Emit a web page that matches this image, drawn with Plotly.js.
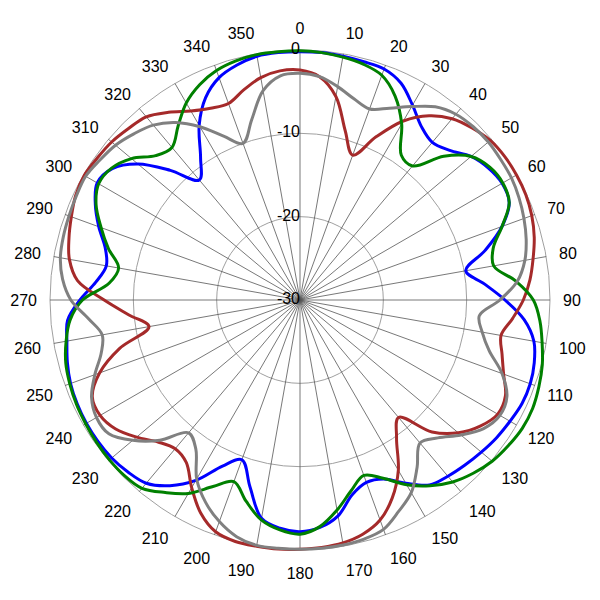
<!DOCTYPE html>
<html>
<head>
<meta charset="utf-8">
<script src="https://cdn.plot.ly/plotly-3.0.1.min.js"></script>
<style>html,body{margin:0;padding:0;background:#fff;}#chart{width:600px;height:600px;}</style>
</head>
<body>
<div id="chart"></div>
<script>
// Angles (degrees), 5 degree steps
const angles = [0,5,10,15,20,25,30,35,40,45,50,55,60,65,70,75,80,85,90,95,100,105,110,115,120,125,130,135,140,145,150,155,160,165,170,175,180,185,190,195,200,205,210,215,220,225,230,235,240,245,250,255,260,265,270,275,280,285,290,295,300,305,310,315,320,325,330,335,340,345,350,355];

const blueGain = [-0.2,-0.2,-0.3,-0.4,-0.5,-1.3,-3.0,-4.6,-5.3,-4.6,-3.2,-2.4,-2.0,-2.3,-4.2,-7.0,-9.8,-7.8,-5.4,-3.0,-1.5,-0.9,-0.6,-0.6,-0.9,-1.2,-1.6,-2.0,-2.4,-2.9,-4.6,-6.3,-6.7,-5.8,-3.7,-2.6,-2.2,-2.5,-3.4,-6.8,-9.6,-8.0,-5.0,-2.8,-1.3,-0.8,-0.5,-0.4,-0.4,-0.5,-0.7,-1.1,-1.6,-2.0,-3.6,-5.4,-6.4,-5.8,-4.3,-2.9,-1.9,-2.5,-4.6,-8.0,-11.2,-9.2,-5.8,-3.2,-1.6,-0.8,-0.3,-0.2];

const greenGain = [-0.1,-0.2,-0.4,-0.7,-1.3,-3.0,-5.6,-8.8,-9.0,-5.6,-3.2,-2.2,-1.9,-2.3,-4.2,-6.0,-6.4,-4.0,-2.0,-1.1,-0.5,0.1,0.5,0.8,0.8,0.5,0.1,-0.6,-1.5,-2.8,-4.4,-6.4,-7.6,-6.3,-4.4,-2.7,-1.9,-2.3,-3.2,-5.0,-6.8,-5.3,-3.2,-1.8,-0.5,-0.2,-0.15,-0.2,-0.3,-0.4,-0.6,-0.9,-1.5,-2.3,-3.9,-7.0,-7.9,-6.2,-4.6,-3.0,-2.1,-2.4,-3.6,-5.5,-6.1,-4.5,-2.7,-1.5,-0.7,-0.3,-0.1,-0.1];

const redGain = [-2.4,-3.1,-5.2,-9.0,-11.5,-8.4,-5.2,-3.0,-1.6,-0.8,-0.2,0.0,0.0,-0.1,-0.4,-0.9,-1.6,-2.3,-3.2,-4.4,-5.5,-4.9,-4.0,-2.8,-2.6,-3.6,-5.2,-7.6,-11.6,-9.8,-6.4,-3.8,-1.9,-0.9,-0.4,-0.2,-0.1,0.0,0.0,0.0,-0.4,-1.8,-4.0,-6.2,-6.7,-5.9,-4.4,-3.0,-2.3,-2.5,-4.4,-7.6,-11.6,-9.4,-6.5,-3.2,-1.9,-1.3,-0.8,-0.3,-0.1,-0.3,-0.5,-0.9,-1.3,-2.5,-3.8,-4.6,-4.9,-3.9,-2.9,-2.4];

const grayGain = [-2.8,-3.1,-4.0,-5.0,-5.6,-4.6,-3.2,-1.7,-0.9,-0.6,-0.5,-0.6,-0.7,-1.0,-1.4,-1.9,-2.6,-3.8,-6.0,-8.4,-7.8,-6.5,-4.2,-2.6,-2.3,-3.1,-4.8,-6.6,-7.6,-5.5,-3.3,-2.0,-0.7,-0.3,-0.15,-0.1,-0.1,-0.1,-0.1,-0.6,-1.7,-3.2,-5.2,-8.2,-9.2,-6.2,-3.8,-2.0,-1.8,-2.4,-3.8,-5.3,-5.9,-4.5,-2.5,-1.4,-0.8,-0.6,-0.5,-0.4,-0.3,-0.7,-1.1,-1.8,-2.6,-4.0,-6.0,-8.3,-10.0,-7.6,-4.5,-3.0];

const radialTicks = [-30,-20,-10,0];
const radialTickText = ['-30','-20','-10','0'];
const angularTicks = [0,10,20,30,40,50,60,70,80,90,100,110,120,130,140,150,160,170,180,190,200,210,220,230,240,250,260,270,280,290,300,310,320,330,340,350];

// radial extent: 0 dB ring is the chart's outer circle; headroom lets curves above 0 dB show
const rMin = -30, rMax = 0, rHead = 1.5;
const R0 = 250; // px radius of the 0 dB ring
const Rfull = R0 * (rMax + rHead - rMin) / (rMax - rMin);

function closed(arr){ return arr.concat([arr[0]]); }
const th = closed(angles);

function curve(r, color){
  return {type:'scatterpolar', mode:'lines', theta: th, r: closed(r),
    line:{color:color, width:3, shape:'spline', smoothing:1},
    hoverinfo:'skip', showlegend:false};
}

// spokes from center to the 0 dB ring, one per angular tick
const spokeTheta = [], spokeR = [];
angularTicks.forEach(t => { spokeTheta.push(t, t, null); spokeR.push(rMin, rMax, null); });

const traces = [
  {type:'scatterpolar', mode:'lines', theta: spokeTheta, r: spokeR,
   line:{color:'#555', width:0.8}, hoverinfo:'skip', showlegend:false, connectgaps:false},
  curve(blueGain, '#0000ff'),
  curve(redGain, '#a52a2a'),
  curve(greenGain, '#008000'),
  curve(grayGain, '#808080'),
  {type:'scatterpolar', mode:'text', theta: radialTicks.map(()=>0), r: radialTicks,
   text: radialTickText, textposition:'middle left',
   textfont:{family:'Liberation Sans, Arial, sans-serif', size:16, color:'#000'},
   cliponaxis:false, hoverinfo:'skip', showlegend:false}
];

const c = 300;
const layout = {
  width:600, height:600,
  margin:{l:0,r:0,t:0,b:0},
  paper_bgcolor:'#fff',
  showlegend:false,
  font:{family:'Liberation Sans, Arial, sans-serif', size:16, color:'#000'},
  polar:{
    domain:{x:[(c-Rfull)/600, (c+Rfull)/600], y:[(c-Rfull)/600, (c+Rfull)/600]},
    bgcolor:'rgba(0,0,0,0)',
    angularaxis:{
      rotation:90, direction:'clockwise',
      tickmode:'array', tickvals: angularTicks, ticktext: angularTicks.map(String),
      showgrid:false, showline:false, ticks:'',
      tickfont:{family:'Liberation Sans, Arial, sans-serif', size:16, color:'#000'}
    },
    radialaxis:{
      range:[rMin, rMax + rHead], tickmode:'array', tickvals:[-20,-10,0],
      showticklabels:false, ticks:'', showline:false,
      showgrid:true, gridcolor:'#a0a0a0', gridwidth:1
    }
  }
};

Plotly.newPlot('chart', traces, layout, {staticPlot:true});
</script>
</body>
</html>
